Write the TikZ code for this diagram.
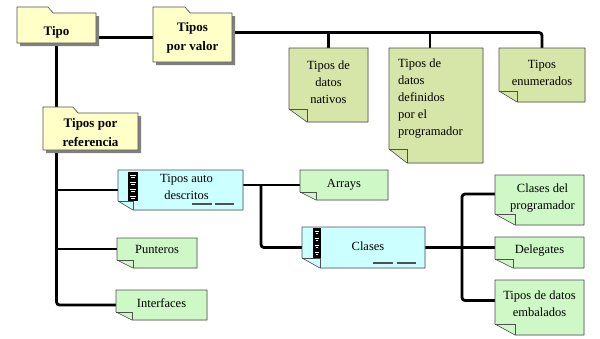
\documentclass[tikz,border=0pt]{standalone}
\usepackage{fontspec}
\setmainfont{Liberation Serif}
\usetikzlibrary{fit,calc}

\definecolor{folderfill}{RGB}{255,255,200}
\definecolor{olivefill}{RGB}{214,229,168}
\definecolor{mintfill}{RGB}{206,248,198}
\definecolor{cyanfill}{RGB}{204,255,255}
\definecolor{shadowgray}{RGB}{128,128,128}
\definecolor{edgegray}{RGB}{80,80,80}

\pgfdeclarelayer{paper}
\pgfdeclarelayer{lines}
\pgfdeclarelayer{shapes}
\pgfsetlayers{paper,lines,shapes,main}

\tikzset{
  boxarea/.style={inner sep=0pt, outer sep=0pt},
  txt/.style={inner sep=0pt, align=center, font=\fontsize{12.5}{17}\selectfont},
  ftxt/.style={inner sep=0pt, align=center, font=\fontsize{13}{19}\selectfont\bfseries},
  conn/.style={line width=2.8pt, black, rounded corners=3pt},
  edge/.style={draw=edgegray, line width=0.6pt},
  dashmark/.style={line width=1.8pt, draw=edgegray},
}

% note with a folded lower-left corner: name, x0, y0, x1, y1, fill, fold width, fold height
\newcommand{\notebox}[8]{%
  \node[boxarea, fit={(#2,#3) (#4,#5)}] (#1) {};
  \begin{pgfonlayer}{shapes}
    \fill[shadowgray, shift={(3,3)}] (#1.north west) -- (#1.north east) -- (#1.south east)
      -- ($(#1.south west)+(#7,0)$) -- ($(#1.south west)+(0,-#8)$) -- cycle;
    \path[edge, fill=#6] (#1.north west) -- (#1.north east) -- (#1.south east)
      -- ($(#1.south west)+(#7,0)$) -- ($(#1.south west)+(0,-#8)$) -- cycle;
    \draw[edge] ($(#1.south west)+(0,-#8)$) -- ($(#1.south west)+(#7,-#8)$) -- ($(#1.south west)+(#7,0)$);
  \end{pgfonlayer}}

% folder: name, x0, tab top, body top, x1, bottom, tab width
\newcommand{\folderbox}[7]{%
  \node[boxarea, fit={(#2,#4) (#5,#6)}] (#1) {};
  \begin{pgfonlayer}{shapes}
    \fill[shadowgray, shift={(3,3)}] (#2,#6) -- (#2,#3) -- ({#2+#7},#3) -- ({#2+#7+5},#4)
      -- (#5,#4) -- (#5,#6) -- cycle;
    \path[edge, fill=folderfill] (#2,#6) -- (#2,#3) -- ({#2+#7},#3) -- ({#2+#7+5},#4)
      -- (#5,#4) -- (#5,#6) -- cycle;
  \end{pgfonlayer}}

% stacked-sheet icon of the self-describing types
\newcommand{\stackicon}[4]{%
  \fill[black] (#1,#2) rectangle (#3,#4);
  \foreach \k in {0,1,2,3} {
    \draw[white, line width=0.5pt] ({#1+2},{#2+3+7*\k}) -- ({#3-2},{#2+3+7*\k})
      ({#1+3},{#2+5.5+7*\k}) -- ({#3-3},{#2+5.5+7*\k});
  }}

\begin{document}
\begin{tikzpicture}[x=1pt, y=-1pt]
  \begin{pgfonlayer}{paper}
    \fill[white] (0,0) rectangle (600,338);
  \end{pgfonlayer}
  \useasboundingbox (0,0) rectangle (600,338);

  % folders
  \folderbox{tipo}{17}{7}{13}{96}{43}{31}
  \folderbox{valor}{153}{7}{13}{232}{62}{32}
  \folderbox{ref}{43}{107}{113}{138}{150}{30}

  % value types
  \notebox{nativos}{289}{48}{368}{122}{olivefill}{18}{13}
  \notebox{definidos}{389}{48}{483}{163}{olivefill}{18}{14}
  \notebox{enum}{499}{48}{585}{102}{olivefill}{18}{11}

  % reference types
  \notebox{auto}{118}{170}{243}{210}{cyanfill}{15}{9}
  \notebox{arrays}{300}{170}{388}{200}{mintfill}{16}{8}
  \notebox{clases}{302}{227}{425}{268}{cyanfill}{18}{10}
  \notebox{punteros}{117}{238}{197}{268}{mintfill}{16}{8}
  \notebox{interfaces}{116}{290}{207}{320}{mintfill}{16}{8}
  \notebox{cprog}{495}{175}{584}{225}{mintfill}{20}{11}
  \notebox{delegates}{495}{237}{584}{268}{mintfill}{18}{9}
  \notebox{emb}{495}{280}{584}{335}{mintfill}{20}{11}

  % icons and dashes on the class boxes
  \begin{pgfonlayer}{shapes}
    \stackicon{128}{172}{138}{201}
    \stackicon{313}{228}{321}{258}
    \draw[dashmark] (192,204) -- (212,204) (215,204) -- (234,204);
    \draw[dashmark] (373,263) -- (393,263) (397,263) -- (416,263);
  \end{pgfonlayer}

  % texts
  \node[ftxt] (tipo-t) at ([yshift=-4pt]tipo.center) {Tipo};
  \node[ftxt] (valor-t) at (valor.center) {Tipos\\por valor};
  \node[ftxt] (ref-t) at ([yshift=-1pt]ref.center) {Tipos por\\referencia};
  \node[txt] (nativos-t) at ([yshift=3pt]nativos.center) {Tipos de\\datos\\nativos};
  \node[txt, align=left, anchor=west] (definidos-t) at ([xshift=9pt, yshift=7pt]definidos.west)
    {Tipos de\\datos\\definidos\\por el\\programador};
  \node[txt] (enum-t) at ([yshift=2pt]enum.center) {Tipos\\enumerados};
  \node[txt] (auto-t) at ([xshift=6pt, yshift=3.5pt]auto.center) {Tipos auto\\descritos};
  \node[txt] (arrays-t) at (arrays.center) {Arrays};
  \node[txt] (clases-t) at ([xshift=4.5pt, yshift=1.5pt]clases.center) {Clases};
  \node[txt] (punteros-t) at ([yshift=4pt]punteros.center) {Punteros};
  \node[txt] (interfaces-t) at ([yshift=2pt]interfaces.center) {Interfaces};
  \node[txt] (cprog-t) at ([xshift=3pt, yshift=1.5pt]cprog.center) {Clases del\\programador};
  \node[txt] (delegates-t) at ([yshift=1.5pt]delegates.center) {Delegates};
  \node[txt] (emb-t) at ([yshift=4pt]emb.center) {Tipos de datos\\embalados};

  % connectors
  \begin{pgfonlayer}{lines}
    \draw[conn] (tipo.east |- valor.west) -- (valor.west);
    \coordinate (vl) at ([yshift=5pt]valor.east);
    \draw[conn] (vl) -| (enum.north);
    \draw[conn] (nativos.north) -- (nativos.north |- vl);
    \draw[conn] ([xshift=-6pt]definidos.north) -- ([xshift=-6pt]definidos.north |- vl);

    \draw[conn] (tipo.south) |- (interfaces.west);
    \draw[conn] (auto.west) -- (auto.west -| tipo.south);
    \draw[conn] ([yshift=4pt]punteros.west) -- ([yshift=4pt]punteros.west -| tipo.south);

    \coordinate (j1) at ([xshift=18pt]auto.east |- arrays.west);
    \draw[conn] (arrays.west) -- (arrays.west -| auto.east);
    \draw[conn] (j1) |- (clases.west);

    \coordinate (j2) at ([xshift=37pt]clases.east);
    \draw[conn] (clases.east) -- (delegates.west |- clases.east);
    \draw[conn] ([yshift=6pt]cprog.west) -| (j2) |- ([yshift=7pt]emb.west);
  \end{pgfonlayer}
\end{tikzpicture}
\end{document}
